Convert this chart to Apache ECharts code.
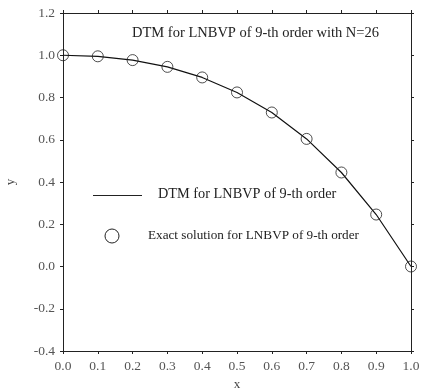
<!DOCTYPE html>
<html><head><meta charset="utf-8">
<script src="https://cdn.jsdelivr.net/npm/echarts@6/dist/echarts.min.js"></script>
<style>html,body{margin:0;padding:0;background:#fff}#c{width:422px;height:390px}</style>
</head><body><div id="c"></div>
<script>
var xValues = [0.0, 0.1, 0.2, 0.3, 0.4, 0.5, 0.6, 0.7, 0.8, 0.9, 1.0];
var dtmValues = [1.000, 0.995, 0.977, 0.945, 0.895, 0.824, 0.729, 0.604, 0.445, 0.246, 0.000];
var exactValues = [1.000, 0.995, 0.977, 0.945, 0.895, 0.824, 0.729, 0.604, 0.445, 0.246, 0.000];
var titleText = 'DTM for LNBVP of 9-th order with N=26';
var legendLine = 'DTM for LNBVP of 9-th order';
var legendCircle = 'Exact solution for LNBVP of 9-th order';

var font = 'Liberation Serif';
var chart = echarts.init(document.getElementById('c'), null, {renderer: 'canvas'});
var axisCommon = {
  axisLine: {show: true, onZero: false, lineStyle: {color: '#222', width: 1}},
  axisTick: {show: true, inside: false, length: 3, lineStyle: {color: '#222'}},
  splitLine: {show: false}
};
chart.setOption({
  animation: false,
  grid: {left: 63, right: 11, top: 13, bottom: 39, containLabel: false, outerBoundsMode: 'none'},
  xAxis: [
    Object.assign({type: 'value', min: 0, max: 1, interval: 0.1, position: 'bottom',
      name: 'x', nameLocation: 'middle', nameGap: 22,
      nameTextStyle: {fontFamily: font, fontSize: 13, color: '#444'},
      axisLabel: {fontFamily: font, fontSize: 13.5, color: '#555', margin: 8,
        formatter: function (v) { return v.toFixed(1); }}}, axisCommon),
    Object.assign({type: 'value', min: 0, max: 1, interval: 0.1, position: 'top',
      axisLabel: {show: false}}, axisCommon)
  ],
  yAxis: [
    Object.assign({type: 'value', min: -0.4, max: 1.2, interval: 0.2, position: 'left',
      name: 'y', nameLocation: 'middle', nameGap: 46, nameRotate: 90,
      nameTextStyle: {fontFamily: font, fontSize: 13, color: '#444'},
      axisLabel: {fontFamily: font, fontSize: 13.5, color: '#555', margin: 8,
        formatter: function (v) { return v.toFixed(1); }}}, axisCommon),
    Object.assign({type: 'value', min: -0.4, max: 1.2, interval: 0.2, position: 'right',
      axisLabel: {show: false}}, axisCommon)
  ],
  series: [
    {type: 'line', name: legendLine, data: xValues.map(function (x, i) { return [x, dtmValues[i]]; }),
      smooth: false, showSymbol: false, symbol: 'none',
      lineStyle: {color: '#111', width: 1.2}, z: 3},
    {type: 'scatter', name: legendCircle, data: xValues.map(function (x, i) { return [x, exactValues[i]]; }),
      symbol: 'circle', symbolSize: 11,
      itemStyle: {color: 'rgba(0,0,0,0)', borderColor: '#222', borderWidth: 1}, z: 4}
  ],
  graphic: [
    {type: 'text', left: 132, top: 26, style: {text: titleText, font: '14.5px "Liberation Serif"', fill: '#222'}},
    {type: 'line', shape: {x1: 93, y1: 195.5, x2: 142, y2: 195.5}, style: {stroke: '#222', lineWidth: 1}},
    {type: 'text', left: 158, top: 187, style: {text: legendLine, font: '14.3px "Liberation Serif"', fill: '#222'}},
    {type: 'circle', shape: {cx: 112, cy: 236, r: 7}, style: {fill: 'none', stroke: '#222', lineWidth: 1}},
    {type: 'text', left: 148, top: 229, style: {text: legendCircle, font: '13.2px "Liberation Serif"', fill: '#222'}}
  ]
});
</script></body></html>
